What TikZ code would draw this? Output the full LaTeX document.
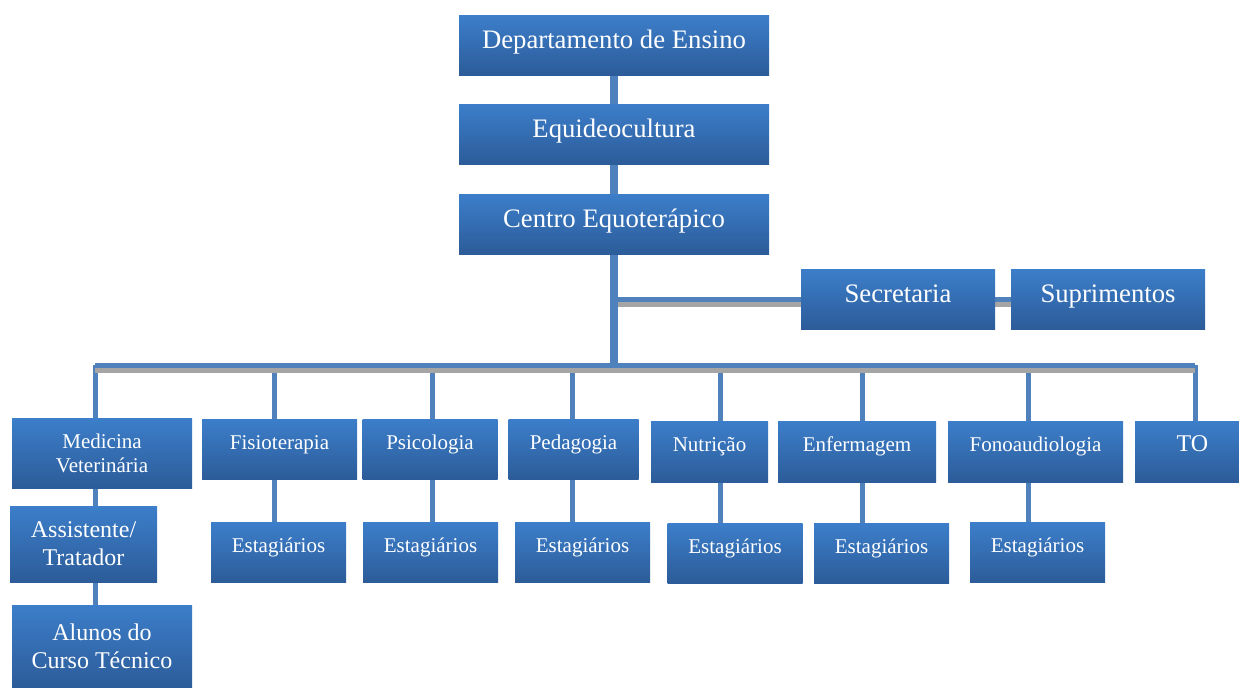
\documentclass[tikz,border=0pt]{standalone}
\usepackage{fontspec}
\setmainfont{Liberation Serif}
\usetikzlibrary{backgrounds}
\definecolor{boxtop}{RGB}{60,126,202}
\definecolor{boxbot}{RGB}{44,92,153}
\definecolor{linkblue}{RGB}{79,129,189}
\definecolor{linkgray}{RGB}{165,165,165}

\begin{document}
\begin{tikzpicture}[x=1pt,y=-1pt,
  box/.style={rectangle,inner sep=0pt,top color=boxtop,bottom color=boxbot,text=white,align=center},
  bigbox/.style={box,font=\fontsize{26.7}{32}\selectfont,text height=19pt,text depth=11.3pt,minimum height=60pt},
  smallbox/.style={box,font=\fontsize{21}{24}\selectfont},
  midbox/.style={box,font=\fontsize{24}{28}\selectfont},
  oneline/.style={text height=14pt,text depth=14pt},
  estbox/.style={smallbox,oneline,minimum width=135pt,minimum height=60pt},
  link/.style={draw=linkblue,line width=5pt,preaction={draw=linkgray,line width=5pt,transform canvas={yshift=-5pt}}}]
\useasboundingbox (0,0) rectangle (1239,688);
% top of the chart
\node[bigbox,minimum width=310pt] (dep) at (614,45) {Departamento de Ensino};
\node[bigbox,minimum width=310pt] (equi) at (614,134) {Equideocultura};
\node[bigbox,minimum width=310pt] (centro) at (614,224) {Centro Equoterápico};
\node[bigbox,minimum width=194pt] (sec) at (898,299) {Secretaria};
\node[bigbox,minimum width=194pt] (sup) at (1108,299) {Suprimentos};
% areas
\node[smallbox,minimum width=180pt,minimum height=70pt] (medvet) at (102,453) {Medicina\\Veterinária};
\node[smallbox,oneline,minimum width=155pt,minimum height=60pt] (fisio) at (279.5,449) {Fisioterapia};
\node[smallbox,oneline,minimum width=135pt,minimum height=60pt] (psico) at (430,449) {Psicologia};
\node[smallbox,oneline,minimum width=130pt,minimum height=60pt] (peda) at (573.5,449) {Pedagogia};
\node[smallbox,oneline,minimum width=117pt,minimum height=61pt] (nutri) at (709.5,451.5) {Nutrição};
\node[smallbox,oneline,minimum width=158pt,minimum height=61pt] (enfer) at (857,451.5) {Enfermagem};
\node[smallbox,oneline,minimum width=175pt,minimum height=61pt] (fono) at (1035.5,451.5) {Fonoaudiologia};
\node[midbox,text height=16pt,text depth=16pt,minimum width=115pt,minimum height=61pt] (terocup) at (1192.5,451.5) {TO};
\node[midbox,minimum width=147pt,minimum height=76pt] (assist) at (83.5,544) {Assistente/\\Tratador};
\node[midbox,minimum width=180pt,minimum height=82pt] (alunos) at (102,646) {Alunos do\\Curso Técnico};
\foreach \n/\x/\y in {1/278.5/552.5,2/430.5/552.5,3/582.5/552.5,4/735/553,5/881.5/553,6/1037.5/552.5}
  \node[estbox] (est\n) at (\x,\y) {Estagiários};
% bus
\foreach \n/\x in {1/95,2/274.5,3/432,4/572,5/720,6/862,7/1028.5,8/1195}
  \coordinate (d\n) at (\x,365);
\begin{scope}[on background layer]
\draw[link,line width=8pt] (dep) -- (equi) -- (centro);
\draw[link] (centro |- sec) -- (sup);
\draw[link,line width=8pt] (centro) -- (centro |- d1);
\draw[link] (d1) -- (d1 |- alunos);
\draw[link] (d2) -- (d2 |- est1);
\draw[link] (d3) -- (d3 |- est2);
\draw[link] (d4) -- (d4 |- est3);
\draw[link] (d5) -- (d5 |- est4);
\draw[link] (d6) -- (d6 |- est5);
\draw[link] (d7) -- (d7 |- est6);
\draw[link] (d8) -- (d8 |- terocup);
\draw[link] (d1) -- (d8);
\end{scope}
\end{tikzpicture}
\end{document}
